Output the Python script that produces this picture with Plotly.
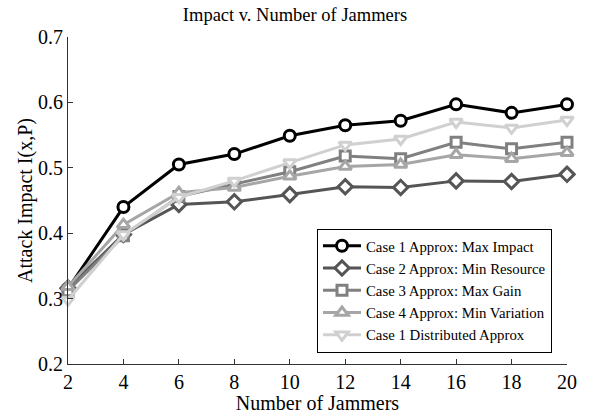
import plotly.graph_objects as go

jammers = [2, 4, 6, 8, 10, 12, 14, 16, 18, 20]
case1_max_impact = [0.315, 0.440, 0.505, 0.521, 0.549, 0.565, 0.572, 0.597, 0.584, 0.597]
case2_min_resource = [0.316, 0.398, 0.444, 0.448, 0.459, 0.471, 0.470, 0.480, 0.479, 0.490]
case3_max_gain = [0.312, 0.396, 0.456, 0.475, 0.494, 0.518, 0.514, 0.539, 0.529, 0.539]
case4_min_variation = [0.318, 0.413, 0.462, 0.470, 0.487, 0.502, 0.505, 0.520, 0.514, 0.523]
case1_distributed = [0.298, 0.398, 0.455, 0.480, 0.508, 0.535, 0.544, 0.570, 0.561, 0.573]

series = [
    ("Case 1 Approx: Max Impact", case1_max_impact, "#000000", "circle", 11),
    ("Case 2 Approx: Min Resource", case2_min_resource, "#555555", "diamond", 11),
    ("Case 3 Approx: Max Gain", case3_max_gain, "#808080", "square", 10),
    ("Case 4 Approx: Min Variation", case4_min_variation, "#a6a6a6", "triangle-up", 11),
    ("Case 1 Distributed Approx", case1_distributed, "#d0d0d0", "triangle-down", 11),
]

font_family = "Liberation Serif, Times New Roman, serif"

fig = go.Figure()
for name, vals, col, sym, msize in series:
    fig.add_trace(go.Scatter(
        x=jammers, y=vals, name=name, mode="lines+markers",
        line=dict(color=col, width=3),
        marker=dict(symbol=sym, size=msize, color="white", line=dict(color=col, width=3)),
        cliponaxis=False,
    ))

fig.update_layout(
    width=590, height=414,
    margin=dict(l=68, r=23, t=37, b=50),
    paper_bgcolor="white", plot_bgcolor="white",
    font=dict(family=font_family, size=20, color="#000000"),
    title=dict(text="Impact v. Number of Jammers", x=0.5, xanchor="center",
               y=1 - 15 / 414, yanchor="middle", font=dict(size=18.5)),
    showlegend=True,
    legend=dict(x=0.499, y=0.414, xanchor="left", yanchor="top",
                bgcolor="white", bordercolor="#000000", borderwidth=1,
                font=dict(size=14.8), itemwidth=38, tracegroupgap=0),
    xaxis=dict(range=[2, 20], tickvals=jammers, ticks="inside", ticklen=5,
               showline=True, linecolor="#333333", linewidth=1, showgrid=False,
               zeroline=False, tickcolor="#333333", automargin=False,
               title=dict(text="Number of Jammers", font=dict(size=20), standoff=0)),
    yaxis=dict(range=[0.2, 0.7], tickvals=[0.2, 0.3, 0.4, 0.5, 0.6, 0.7],
               ticktext=["0.2", "0.3", "0.4", "0.5", "0.6", "0.7"],
               ticks="inside", ticklen=5, showline=True, linecolor="#333333",
               linewidth=1, showgrid=False, zeroline=False, tickcolor="#333333",
               automargin=False,
               title=dict(text="Attack Impact I(x,P)", font=dict(size=20), standoff=0)),
)

fig.write_html("out.html")
